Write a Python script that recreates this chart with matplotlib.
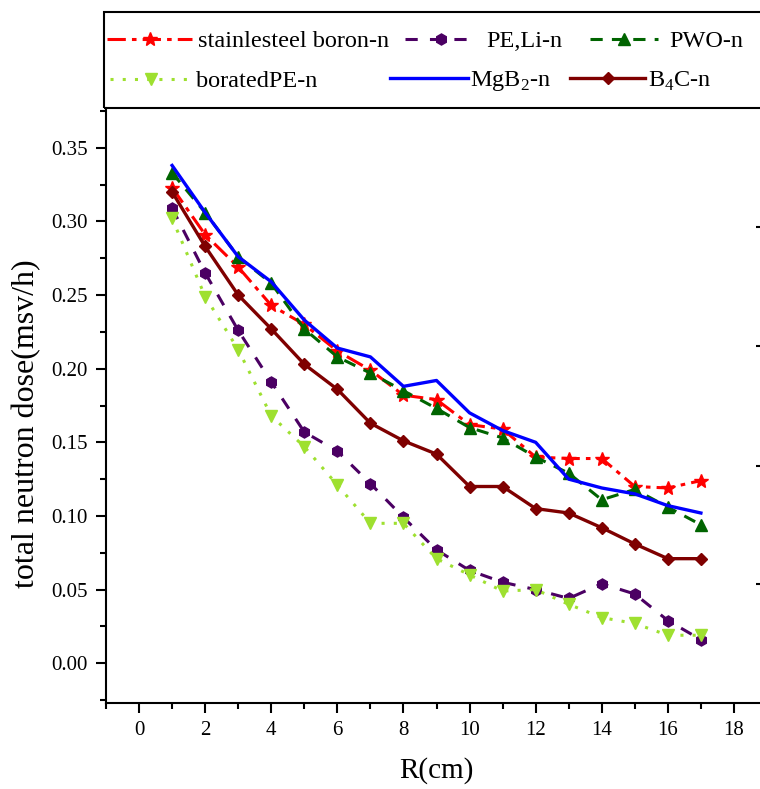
import matplotlib
matplotlib.use("Agg")
import matplotlib.pyplot as plt
from matplotlib.patches import Rectangle
from matplotlib.ticker import MultipleLocator

plt.rcParams["font.family"] = ["Liberation Serif", "DejaVu Serif"]
plt.rcParams["mathtext.fontset"] = "custom"
plt.rcParams["mathtext.rm"] = "Liberation Serif"

R = list(range(1, 18))

stainless = [0.323, 0.291, 0.269, 0.243, 0.230, 0.212, 0.199, 0.182, 0.179, 0.162,
             0.159, 0.140, 0.139, 0.139, 0.120, 0.119, 0.124]
pe_li = [0.309, 0.265, 0.226, 0.191, 0.157, 0.144, 0.122, 0.099, 0.077, 0.063,
         0.055, 0.050, 0.044, 0.054, 0.047, 0.029, 0.016]
pwo = [0.333, 0.306, 0.276, 0.258, 0.227, 0.208, 0.197, 0.185, 0.173, 0.160,
       0.153, 0.140, 0.129, 0.111, 0.118, 0.106, 0.094]
borated_pe = [0.302, 0.249, 0.213, 0.168, 0.147, 0.121, 0.095, 0.095, 0.071, 0.060,
              0.049, 0.050, 0.040, 0.031, 0.027, 0.019, 0.019]
mgb2 = [0.338, 0.306, 0.276, 0.259, 0.233, 0.214, 0.208, 0.188, 0.192, 0.170,
        0.158, 0.150, 0.125, 0.119, 0.115, 0.107, 0.102]
b4c = [0.320, 0.283, 0.250, 0.227, 0.203, 0.186, 0.163, 0.151, 0.142, 0.120,
       0.120, 0.105, 0.102, 0.092, 0.081, 0.071, 0.071]

fig = plt.figure(figsize=(7.6, 7.89), dpi=100)
W, H = 760, 789
ax = fig.add_axes([106 / W, 1 - 703 / H, (767 - 106) / W, (703 - 108) / H])

lines = []
lines.append(ax.plot(R, stainless, color="#ff0000", ls=(0, (6, 2, 1.5, 2)), lw=2.2,
                     marker="*", ms=10, label="stainlesteel boron-n")[0])
lines.append(ax.plot(R, pe_li, color="#4b0063", ls=(0, (4, 4)), lw=2.2,
                     marker="h", ms=8, label="PE,Li-n")[0])
lines.append(ax.plot(R, pwo, color="#006400", ls=(0, (4, 3)), lw=2.2,
                     marker="^", ms=8, label="PWO-n")[0])
lines.append(ax.plot(R, borated_pe, color="#9ee030", ls=(0, (1, 3)), lw=2.2,
                     marker="v", ms=9, label="boratedPE-n")[0])
lines.append(ax.plot(R, mgb2, color="#0000ff", ls="-", lw=2.4,
                     label="MgB$_2$-n")[0])
lines.append(ax.plot(R, b4c, color="#7f0000", ls="-", lw=2.4,
                     marker="D", ms=6, label="B$_4$C-n")[0])

ax.set_xlim(-1, 19)
ax.set_ylim(-0.027, 0.377)
ax.xaxis.set_major_locator(MultipleLocator(2))
ax.xaxis.set_minor_locator(MultipleLocator(1))
ax.yaxis.set_minor_locator(MultipleLocator(0.025))
ax.set_yticks([0, 0.05, 0.1, 0.15, 0.2, 0.25, 0.3, 0.35])
ax.set_yticklabels(["0.00", "0.05", "0.10", "0.15", "0.20", "0.25", "0.30", "0.35"])
ax.set_xticks(range(0, 19, 2))
ax.tick_params(which="major", length=7, width=1.5, labelsize=15, pad=6)
ax.tick_params(which="minor", length=4, width=1.5)
for s in ["top", "right"]:
    ax.spines[s].set_visible(False)
for s in ["left", "bottom"]:
    ax.spines[s].set_linewidth(1.5)

ax.set_xlabel("R(cm)", fontsize=21, labelpad=12)
ax.set_ylabel("total neutron dose(msv/h)", fontsize=23)
ax.yaxis.set_label_coords(-0.098, 0.47)

# right-hand inner ticks
ax2 = ax.twinx()
ax2.set_ylim(ax.get_ylim())
ax2.set_yticks([(663 - y) / 73.6 * 0.05 for y in (227, 346, 466, 584)])
ax2.tick_params(direction="in", length=8, width=1.5, labelright=False)
for s in ax2.spines.values():
    s.set_visible(False)

# legend box
fig.patches.append(Rectangle((104 / W, 1 - 108 / H), 0.9, 96 / H, transform=fig.transFigure,
                             fill=False, edgecolor="black", lw=1.5))

spots = [(0, 107, 41, 3.5, 0.25), (1, 405, 41, 3.0, 0.35), (2, 590, 41, 2.8, 0.45),
         (3, 110, 81, 3.4, 0.15), (4, 390, 81, 3.2, 0.1), (5, 570, 81, 3.1, 0.1)]
for i, x, y, hl, tp in spots:
    fig.legend([lines[i]], [lines[i].get_label()], loc="center left",
               bbox_to_anchor=(x / W, 1 - y / H), frameon=False, fontsize=17.5,
               handlelength=hl, handletextpad=tp, borderpad=0, borderaxespad=0)

fig.savefig("out.png", dpi=100)
